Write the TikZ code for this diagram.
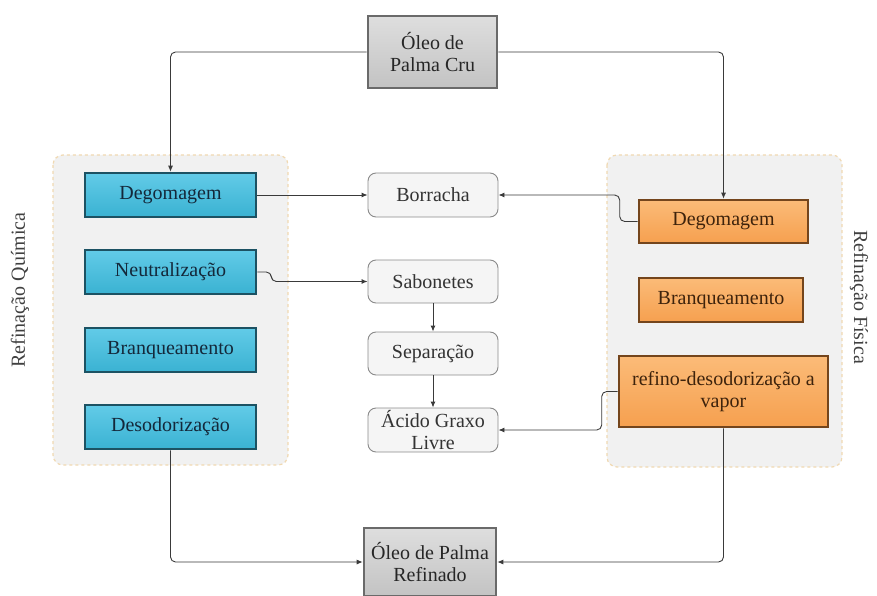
\documentclass[tikz,border=0pt]{standalone}
\usepackage{fontspec}
\setmainfont{Liberation Serif}
\usetikzlibrary{arrows.meta,shadings}
\definecolor{bluefill}{HTML}{3AB2D2}
\definecolor{bluetop}{HTML}{62CBE8}
\definecolor{blueedge}{HTML}{1C5263}
\definecolor{bluetext}{HTML}{14283A}
\definecolor{orfill}{HTML}{F6A04F}
\definecolor{ortop}{HTML}{FBBB78}
\definecolor{oredge}{HTML}{74451C}
\definecolor{ortext}{HTML}{3E230C}
\definecolor{grfill}{HTML}{C3C3C3}
\definecolor{grtop}{HTML}{DEDEDE}
\definecolor{gredge}{HTML}{6A6A6A}
\definecolor{panel}{HTML}{F1F1F1}
\definecolor{paneledge}{HTML}{F0D9B2}
\definecolor{softfill}{HTML}{F5F5F5}
\definecolor{softedge}{HTML}{8A8A8A}
\definecolor{linecol}{HTML}{3A3A3A}
\tikzset{
  x=1pt, y=-1pt,
  every node/.style={font=\fontsize{20}{22}\selectfont, align=center, inner sep=2pt},
  panelbox/.style={fill=panel, draw=paneledge, dashed, line width=1.2pt, rounded corners=10pt},
  bluebox/.style={draw=blueedge, line width=2.6pt, top color=bluetop, bottom color=bluefill, text=bluetext},
  orangebox/.style={draw=oredge, line width=2.6pt, top color=ortop, bottom color=orfill, text=ortext},
  graybox/.style={draw=gredge, line width=2.6pt, top color=grtop, bottom color=grfill, text=black!85},
  softbox/.style={draw=softedge, line width=0.9pt, fill=softfill, rounded corners=8pt, text=black!80},
  conn/.style={draw=linecol, line width=0.9pt, rounded corners=5pt, -{Latex[length=6pt,width=5pt]}},
  sidelabel/.style={text=black!75}
}
\begin{document}
\begin{tikzpicture}
\useasboundingbox (0,0) rectangle (877,596);

% process panels
\draw[panelbox] (53,155) rectangle (288,465);
\draw[panelbox] (607,155) rectangle (842,467);

% raw and refined oil
\node[graybox, minimum width=129pt, minimum height=72pt] (cru) at (432.5,52) {Óleo de\\Palma Cru};
\node[graybox, minimum width=132pt, minimum height=68pt] (fin) at (430,562) {Óleo de Palma\\Refinado};

% chemical refining steps
\node[bluebox, minimum width=171pt, minimum height=44pt] (qdeg) at (170.5,195) {Degomagem};
\node[bluebox, minimum width=171pt, minimum height=44pt] (qneu) at (170.5,272) {Neutralização};
\node[bluebox, minimum width=171pt, minimum height=44pt] (qbra) at (170.5,350) {Branqueamento};
\node[bluebox, minimum width=171pt, minimum height=44pt] (qdes) at (170.5,427) {Desodorização};

% physical refining steps
\node[orangebox, minimum width=169pt, minimum height=43pt] (fdeg) at (723.5,221.5) {Degomagem};
\node[orangebox, minimum width=164pt, minimum height=44pt] (fbra) at (721,300) {Branqueamento};
\node[orangebox, minimum width=209pt, minimum height=71pt] (fref) at (723.5,391.5) {refino-desodorização a\\vapor};

% by-products
\node[softbox, minimum width=130pt, minimum height=44pt] (bor) at (433,195) {Borracha};
\node[softbox, minimum width=130pt, minimum height=43pt] (sab) at (433,281.5) {Sabonetes};
\node[softbox, minimum width=130pt, minimum height=43pt] (sep) at (433,353.5) {Separação};
\node[softbox, minimum width=130pt, minimum height=44pt] (agl) at (433,430) {Ácido Graxo\\Livre};

% side labels
\node[sidelabel, rotate=90] (lq) at (20,290) {Refinação Química};
\node[sidelabel, rotate=-90] (lf) at (859,297) {Refinação Física};

% connectors
\draw[conn] (cru.west) -| (qdeg.north);
\draw[conn] (cru.east) -| (fdeg.north);
\draw[conn] (qdeg.east) -- (bor.west);
\draw[conn] (fdeg.west) -- ++(-18,0) |- (bor.east);
\draw[conn] (qneu.east) -- ++(14,0) |- (sab.west);
\draw[conn] (sab.south) -- (sep.north);
\draw[conn] (sep.south) -- (agl.north);
\draw[conn] (fref.west) -- ++(-16,0) |- (agl.east);
\draw[conn] (qdes.south) |- (fin.west);
\draw[conn] (fref.south) |- (fin.east);
\end{tikzpicture}
\end{document}
